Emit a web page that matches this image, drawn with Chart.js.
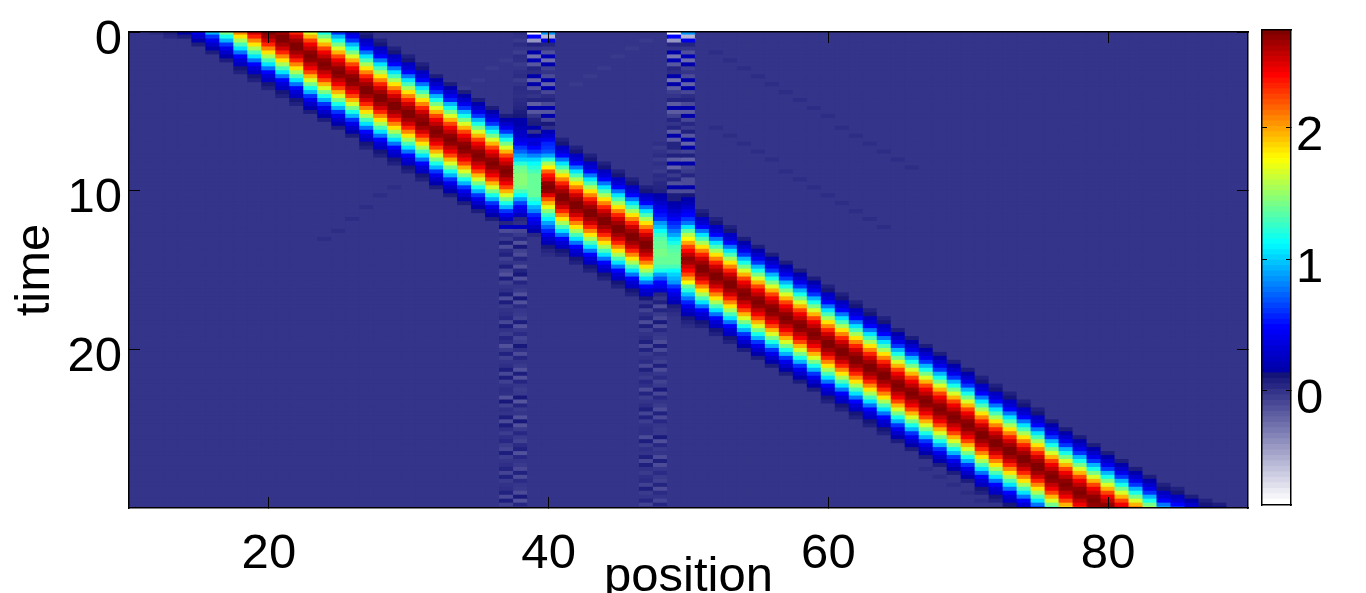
<!DOCTYPE html>
<html><head><meta charset="utf-8">
<script src="https://cdn.jsdelivr.net/npm/chart.js@4/dist/chart.umd.js"></script>
<style>html,body{margin:0;padding:0;background:#fff;overflow:hidden}
canvas{position:absolute;top:0}
#main{left:0}#bar{left:1250px}</style></head><body>
<canvas id="main" width="1250" height="593"></canvas>
<canvas id="bar" width="116" height="593"></canvas>
<script>
const xTicks=[20,40,60,80], yTicks=[0,10,20], barTicks=[0,1,2];
const xRange=[10,90], yRange=[0,30], barRange=[-0.867,2.745];
const firstCol=10, lastCol=90, rowCount=121, rowStep=0.25;

// the travelling hump as read down a column, in value units x 100
const humpWhole=[10,17,28,42,60,94,118,141,166,196,222,243,258,268,272,268,258,243,222,196,166,141,118,94,60,42,28,17,10];
const humpHalf=[8,13,22,34,50,78,106,129,153,181,209,233,251,264,271,271,264,251,233,209,181,153,129,106,78,50,34,22,13,8];
// for each column: first row of the hump, and W/H for crest on a row or between two rows
const humpCols=[14,15,16,17,18,19,20,21,22,23,24,25,26,27,28,29,30,31,32,33,34,35,36,37,41,42,43,44,45,46,47,51,52,53,54,55,56,57,58,59,60,61,62,63,64,65,66,67,68,69,70,71,72,73,74,75,76,77,78,79,80,81,82,83,84,85,86,87,88];
const humpStart=[-27,-25,-23,-21,-19,-17,-15,-13,-11,-8,-6,-4,-2,0,2,4,6,8,11,13,15,17,19,21,27,29,31,33,35,37,39,45,47,49,52,54,56,58,60,62,64,66,68,70,72,75,77,79,81,83,85,87,89,91,93,95,98,100,102,104,106,108,110,112,114,115,117,118,119];
const humpKind="WWWWHHHHHWWWWHHHHHWWWWWWHHHHHHHHHHWWWWWWHHHHHWWWWWWHHHHHWWWWWWWWHHWHW";

// the columns at the two defects, top row first
const col38=[.02,.01,-.02,.03,0,-.04,.03,.02,-.02,0,.02,.03,-.03,.01,.04,.03,.02,.04,.05,.07,.1,.12,.14,.16,.2,.22,.28,.36,.45,.6,.72,.88,1.02,1.2,1.36,1.42,1.45,1.45,1.45,1.42,1.3,1.12,.9,.65,.45,.38,.25,.06,.02,.22,-.08,-.02,.05];
const col39=[-.85,.5,-.42,.08,0,.15,-.25,.2,-.15,.07,.03,.14,-.2,.14,-.13,.03,0,.07,-.18,.14,-.15,0,.08,.1,.14,0,.16,.38,.32,.48,.6,.8,1,1.12,1.2,1.3,1.36,1.38,1.38,1.38,1.38,1.36,1.25,1.12,.95,.8,.55,.45,.38,.25,.15,.05,0];
const col40=[.85,-.55,.42,.07,0,-.12,.18,-.25,.15,-.05,0,-.1,.14,-.2,.15,-.08,.03,.07,-.1,.14,-.15,.14,-.08,.12,.02,.2,.3,.4,.55,.62,.7,.9,1.2,1.55,1.8,2.15,2.35,2.5,2.68,2.72,2.7,2.5,2.2,1.95,1.7,1.45,1.25,1.1,.88,.72,.55,.42,.3,.2,.12,.06,.03];
const col48=[.02,-.02,.01,.03,-.03,.02,0,-.02,.04,.02,.05,.06,.08,.14,.2,.28,.35,.45,.52,.62,.85,.98,1.12,1.25,1.32,1.38,1.4,1.42,1.42,1.4,1.38,1.3,1.18,.9,.68,.5,.42,.28,.06,0];
const col48Start=28;
const col49=[-.85,.5,-.42,.06,0,.15,-.28,.2,-.15,.06,.03,.14,-.27,.16,-.17,-.04,0,.07,-.17,.14,-.17,-.05,.07,0,.07,-.17,.14,-.17,.07,.07,-.04,.08,-.17,.14,-.2,.07,-.02,.06,-.12,.14,-.1,.1,.1,.14,.18,.3,.38,.45,.55,.65,.78,.9,1.05,1.18,1.3,1.35,1.38,1.4,1.38,1.3,1.14,1,.92,.85,.6,.5,.38,.28,.18,.1,.05,.02];
const col50=[.85,-.55,.42,.07,0,-.12,.18,-.24,.16,-.05,0,-.1,.14,-.2,.15,-.08,.03,.07,-.1,.14,-.17,.14,-.08,.05,-.02,.08,-.15,.14,-.2,.14,-.07,.08,-.2,.14,-.07,-.03,.06,-.1,-.1,.14,-.1,.12,.14,.2,.3,.42,.48,.6,.75,1.05,1.35,1.6,1.75,2,2.25,2.4,2.55,2.7,2.65,2.52,2.4,2.25,2,1.75,1.4,1.2,.98,.75,.55,.42,.3,.2,.12,.07,.03];

// faint stripes below the band, added to what is already there
const col37Lower=[0,-.03,-.1,.12,-.1,.02,-.03,.10,-.10,.04,.08,-.05,0,.09,-.06,-.12,.10,-.05,0,.02,.10,-.10,.10,-.03,.01,.02,.05,-.08,.10,.01,-.03,.06,.03,-.12,-.02,.08,-.05,0,.02,.10,-.08,.10,-.05,.01,.03,.02,-.12,.12,-.05,.02,0,.10,-.10,.10,.02,-.04,.02,.05,-.03,-.07,.10,-.04,0,.02,.07,-.07,.08,-.03,.01,.02,.08,-.09,.10,-.05,.05];
const col37LowerStart=46;
const col38Lower=[-.12,.12,-.05,-.10,.06,0,-.11,.07,.12,-.12,.06,0,-.02,-.12,.12,-.12,.04,-.01,-.02,-.06,.10,-.12,-.01,.04,-.07,-.04,.12,.02,-.10,.06,0,-.02,-.12,.10,-.12,.06,-.01,-.04,-.02,.12,-.14,.06,-.02,0,-.12,.12,-.12,-.02,.05,-.02,-.06,.04,.08,-.12,.05,0,-.02,-.08,.08,-.10,.04,-.01,-.02,-.10,.11,-.12,.06,-.06];
const col38LowerStart=53;
const col47Lower=[-.08,.09,-.06,.02,.07,-.10,.09,-.04,.01,.03,.09,-.09,.08,-.02,.01,.04,-.08,.09,.01,-.03,.05,.02,-.10,.07,-.04,0,.03,.09,-.07,.08,-.04,.01,.02,.02,-.10,.10,-.04,.02,0,.09,-.08,.09,.01,-.03,.02,.04,-.06,.09,-.03,0,.06,-.06,.07];
const col48Lower=[.08,-.10,.07,-.02,-.08,.11,-.10,.05,-.01,-.03,-.10,.10,-.09,.03,-.01,-.05,.09,-.10,-.01,.04,-.06,-.02,.11,-.08,.05,0,-.03,-.10,.08,-.09,.05,-.01,-.02,-.02,.11,-.11,.05,-.02,0,-.10,.09,-.10,-.01,.04,-.02,-.05,.07,-.10,.04,0,-.07,.07,-.08];
const col4748LowerStart=68;

// faint reflected ripples and the far tail of the hump at the top left
const rippleCols=[12,13,13, 52,53,54,55,56,57,58,59,60,61,62,63,64,65,66, 52,53,54,55,56,57,58,59,60,61,62,63,64, 24,25,26,27,28,29, 67,68,69,70,71,72, 30,31,32,33,34,35,36,37, 42,43,44,45,46,47];
const rippleRows=[0,0,1, 5,7,9,11,13,15,17,19,21,24,26,28,30,32,34, 24,26,28,30,32,35,37,39,41,43,45,47,49, 52,50,47,44,41,39, 110,112,114,116,118,120, 24,22,20,17,14,12,9,7, 13,11,9,6,4,2];
const rippleVals=[.03,.08,.05, .03,.03,.03,.03,.03,.03,.03,.03,.03,.03,.03,.03,.03,.03,.03, .03,.03,.03,.03,.03,.03,.03,.03,.03,.03,.03,.03,.03, .03,.03,.03,.03,.03,.03, .03,.03,.03,.03,.03,.03, -.02,-.02,-.02,-.02,-.02,-.02,-.02,-.02, -.02,-.02,-.02,-.02,-.02,-.02];

// colour scale
const paleLevels=24, jetLevels=64, jetFloor=0.137;
const paleStops=[[255,255,255],[20,20,120]];
const jetStops=[[0,0,170],[0,0,255],[0,255,255],[255,255,0],[255,0,0],[128,0,0]];
const jetStopAt=[0,0.125,0.375,0.625,0.875,1];

function mix(a,b,t){return a.map((v,i)=>Math.round(v+(b[i]-v)*t));}
function levelColor(i){
  if(i<paleLevels){return mix(paleStops[0],paleStops[1],paleLevels>1?i/(paleLevels-1):0);}
  const t=(i-paleLevels)/(jetLevels-1);
  let s=0; while(s<jetStopAt.length-2&&t>jetStopAt[s+1])s++;
  return mix(jetStops[s],jetStops[s+1],(t-jetStopAt[s])/(jetStopAt[s+1]-jetStopAt[s]));
}
const css=c=>`rgb(${c[0]},${c[1]},${c[2]})`;
const levelCss=[];for(let i=0;i<paleLevels+jetLevels;i++)levelCss.push(css(levelColor(i)));
function cellColor(v){
  const [lo,hi]=barRange;
  if(v<jetFloor){return css(mix(paleStops[0],paleStops[1],Math.max(0,(v-lo)/(jetFloor-lo))));}
  return levelCss[paleLevels+Math.min(jetLevels-1,Math.floor((v-jetFloor)/(hi-jetFloor)*jetLevels))];
}

// assemble the cells
const cells=[];for(let r=0;r<rowCount;r++)cells.push(new Array(lastCol-firstCol+1).fill(0));
function addRun(col,start,vals,scale){vals.forEach((v,i)=>{const r=start+i;if(r>=0&&r<rowCount)cells[r][col-firstCol]+=v*scale;});}
humpCols.forEach((c,i)=>addRun(c,humpStart[i],humpKind[i]==='W'?humpWhole:humpHalf,0.01));
addRun(38,0,col38,1);addRun(39,0,col39,1);addRun(40,0,col40,1);
addRun(48,col48Start,col48,1);addRun(49,0,col49,1);addRun(50,0,col50,1);
addRun(37,col37LowerStart,col37Lower,1);addRun(38,col38LowerStart,col38Lower,1);
addRun(47,col4748LowerStart,col47Lower,1);addRun(48,col4748LowerStart,col48Lower,1);
rippleCols.forEach((c,i)=>addRun(c,rippleRows[i],[rippleVals[i]],1));

const FONT={family:'"Liberation Sans"',size:49,lineHeight:1.2};
function flush(s){s.paddingTop=0;s.paddingBottom=0;s.paddingLeft=0;s.paddingRight=0;}
function frameAxis(axis,position,size,opts){
  const o=Object.assign({
    axis,position,type:'linear',offset:false,
    grid:{drawOnChartArea:false,offset:false,color:'#000',lineWidth:1,tickLength:-11,z:1},
    border:{color:'#000',width:1.5,z:1},
    afterFit(s){if(axis==='x')s.height=size;else s.width=size;flush(s);}
  },opts);
  return o;
}
function tickSetter(list){return s=>{s.ticks=list.map(v=>({value:v}));};}

const datasets=cells.map((row,r)=>({
  data:row.map((v,c)=>({x:firstCol+c,y:[r*rowStep-rowStep/2,r*rowStep+rowStep/2]})),
  backgroundColor:row.map(cellColor),
  borderWidth:0,inflateAmount:0.6,barPercentage:1,categoryPercentage:1,grouped:false
}));

new Chart(document.getElementById('main'),{
  type:'bar',
  data:{datasets},
  options:{
    responsive:false,animation:false,events:[],
    layout:{padding:0},
    plugins:{legend:{display:false},tooltip:{enabled:false}},
    scales:{
      x:frameAxis('x','bottom',85,{min:xRange[0],max:xRange[1],afterBuildTicks:tickSetter(xTicks),
        ticks:{font:FONT,color:'#000',padding:28,maxRotation:0,autoSkip:false,callback:v=>String(v)},
        title:{display:true,text:'position',font:FONT,color:'#000',padding:{top:0,bottom:-14}}}),
      x2:frameAxis('x','top',32,{min:xRange[0],max:xRange[1],afterBuildTicks:tickSetter(xTicks),ticks:{display:false}}),
      y:frameAxis('y','left',129,{min:yRange[0],max:yRange[1],reverse:true,afterBuildTicks:tickSetter(yTicks),
        ticks:{font:FONT,color:'#000',padding:18,labelOffset:8,autoSkip:false,callback:v=>String(v)},
        title:{display:true,text:'time',font:FONT,color:'#000',padding:{top:6,bottom:0}}}),
      y2:frameAxis('y','right',2,{min:yRange[0],max:yRange[1],reverse:true,afterBuildTicks:tickSetter(yTicks),ticks:{display:false}})
    }
  }
});

// colour bar
const levelCount=paleLevels+jetLevels;
const barSets=[];
for(let i=0;i<levelCount;i++){
  const [lo,hi]=barRange;
  const a=i<paleLevels?lo+(jetFloor-lo)*i/paleLevels:jetFloor+(hi-jetFloor)*(i-paleLevels)/jetLevels;
  const b=i<paleLevels?lo+(jetFloor-lo)*(i+1)/paleLevels:jetFloor+(hi-jetFloor)*(i-paleLevels+1)/jetLevels;
  barSets.push({data:[[a,b]],backgroundColor:levelCss[i],borderWidth:0,inflateAmount:0.6,barPercentage:1,categoryPercentage:1,grouped:false});
}
function barFrame(axis,position,size,opts){
  const o=frameAxis(axis,position,size,opts);
  o.grid=Object.assign({},o.grid,{tickLength:-5});
  return o;
}
new Chart(document.getElementById('bar'),{
  type:'bar',
  data:{labels:['level'],datasets:barSets},
  options:{
    responsive:false,animation:false,events:[],
    layout:{padding:0},
    plugins:{legend:{display:false},tooltip:{enabled:false}},
    scales:{
      x:{type:'category',position:'bottom',display:true,offset:true,
        grid:{display:false},border:{color:'#000',width:1.5,z:1},ticks:{display:false},afterFit(s){s.height=88;flush(s);}},
      x2:{type:'category',axis:'x',position:'top',display:true,offset:true,labels:['level'],
        grid:{display:false},border:{color:'#000',width:1.5,z:1},ticks:{display:false},afterFit(s){s.height=30;flush(s);}},
      y:barFrame('y','right',75,{min:barRange[0],max:barRange[1],afterBuildTicks:tickSetter(barTicks),
        ticks:{font:FONT,color:'#000',padding:10,labelOffset:9,autoSkip:false,callback:v=>String(v)}}),
      y2:barFrame('y','left',12,{min:barRange[0],max:barRange[1],afterBuildTicks:tickSetter(barTicks),ticks:{display:false}})
    }
  }
});
</script></body></html>
